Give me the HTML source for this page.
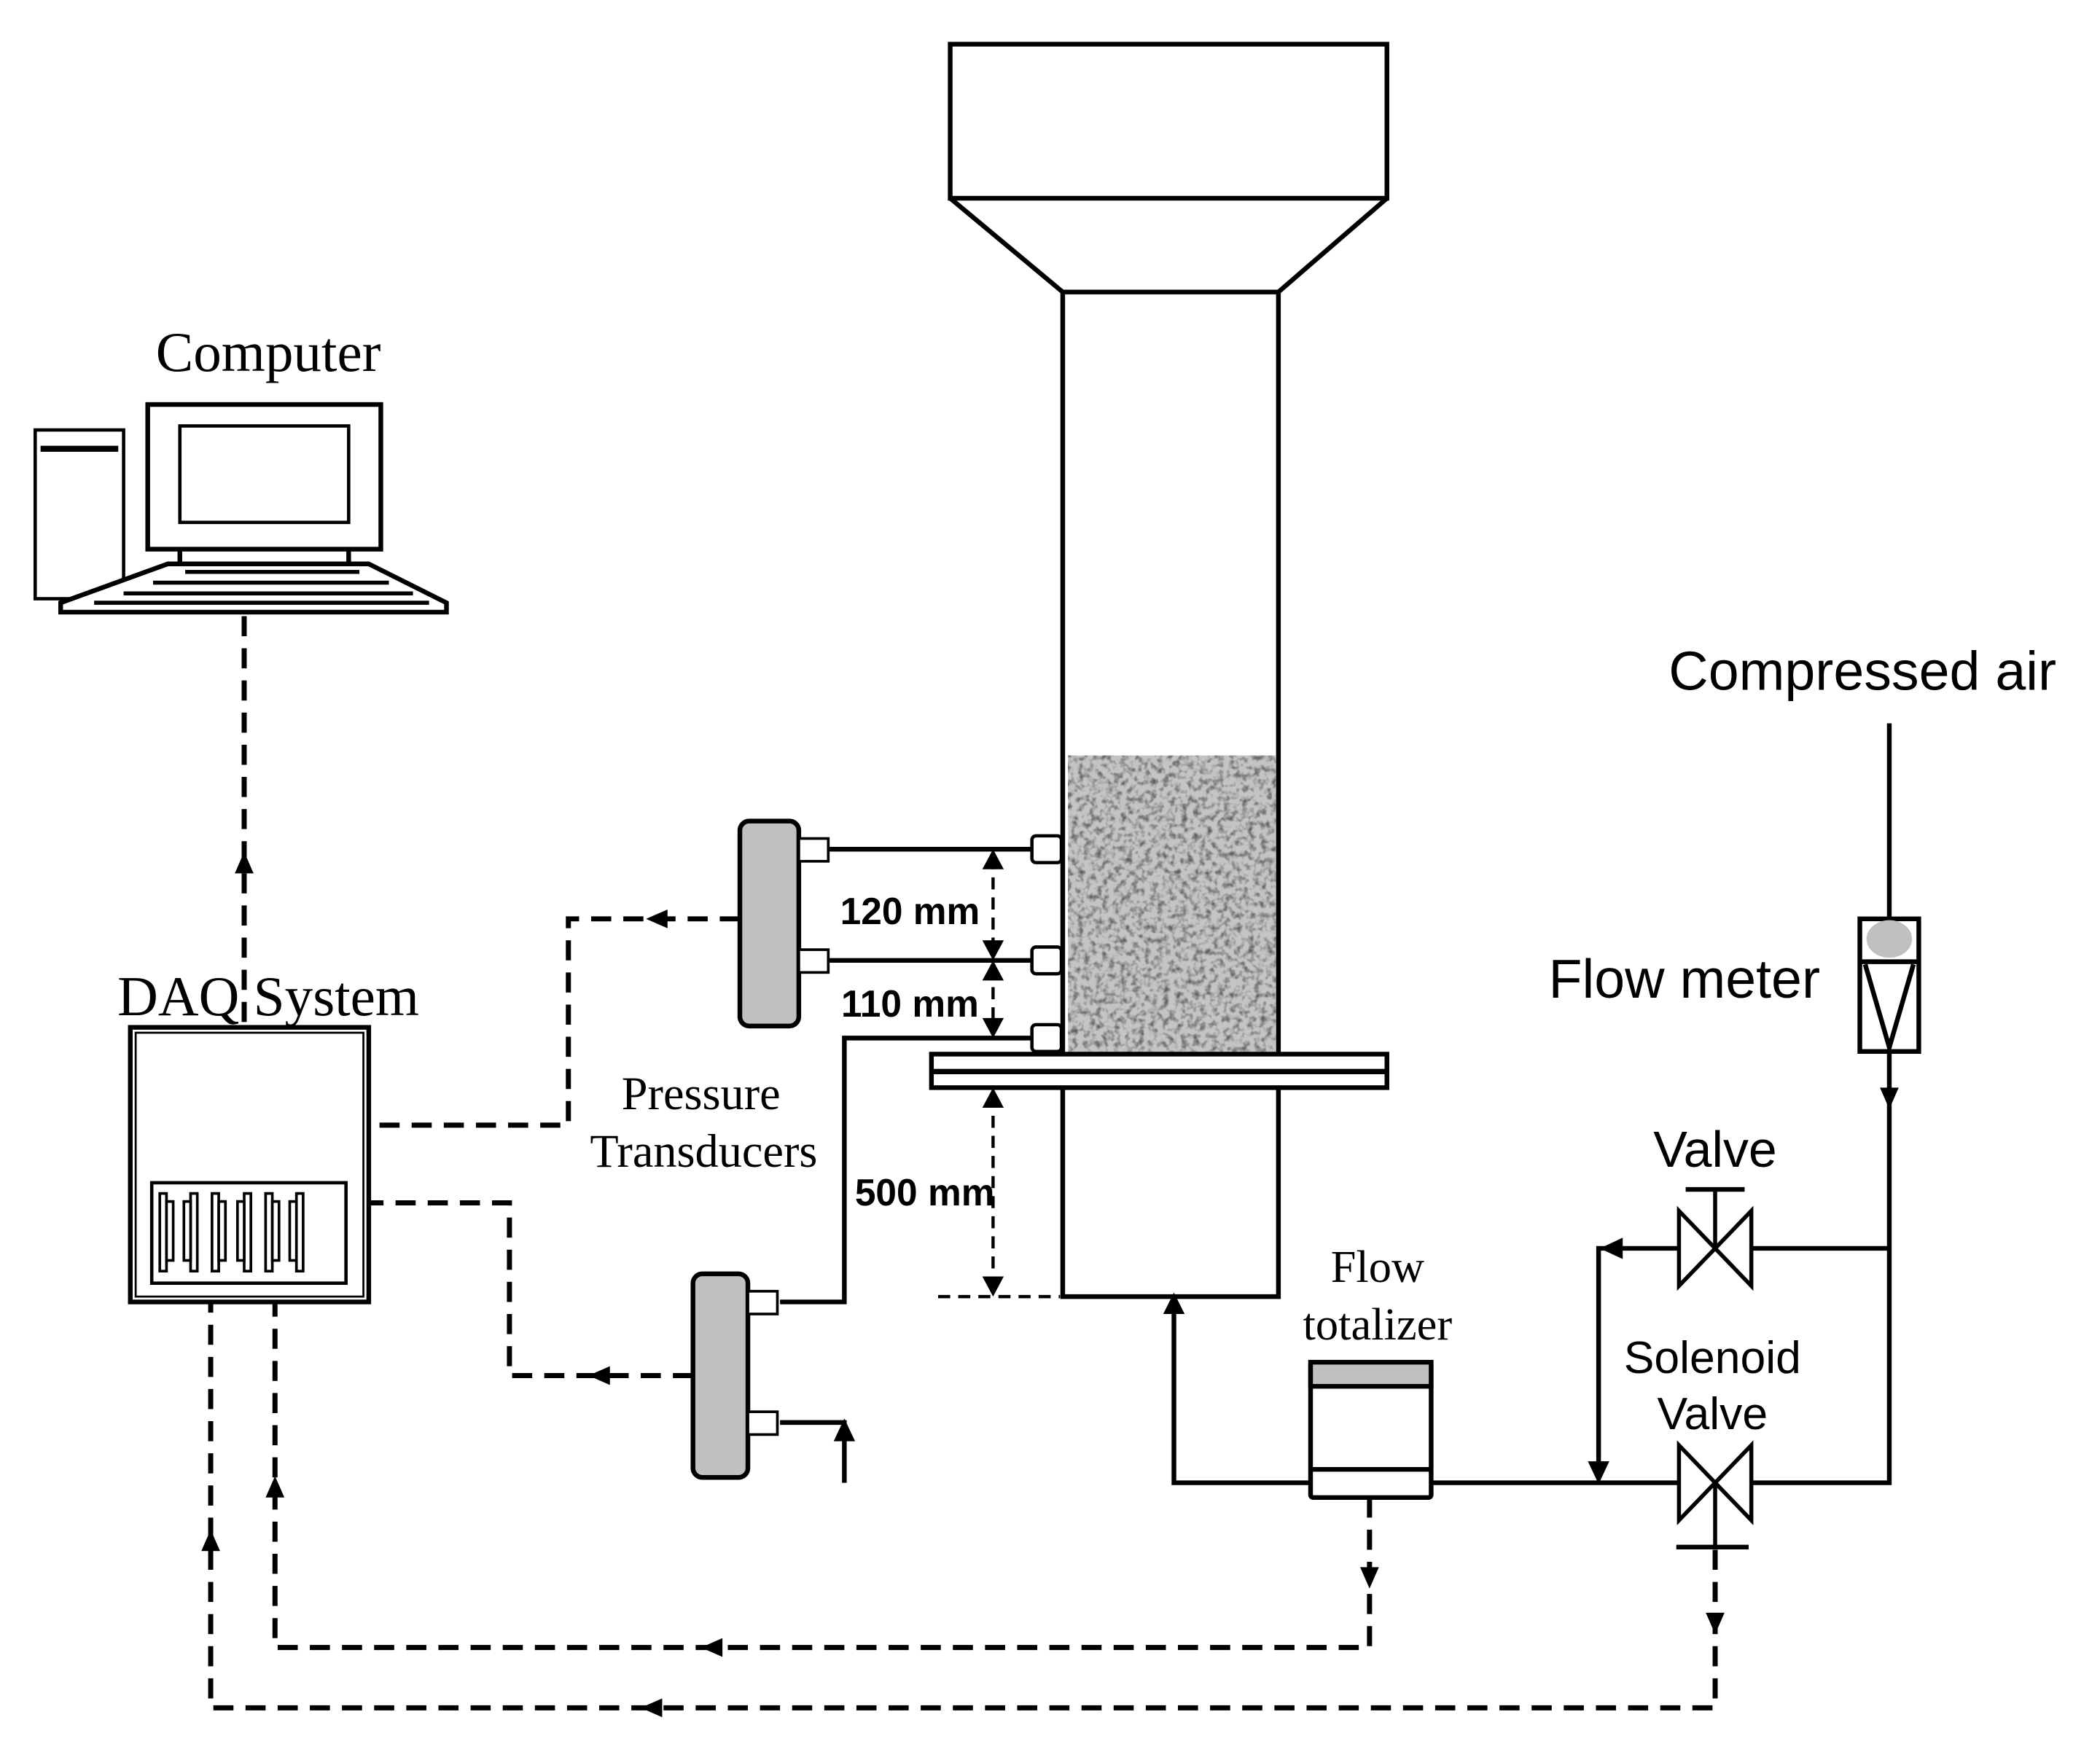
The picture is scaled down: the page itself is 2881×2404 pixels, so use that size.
<!DOCTYPE html>
<html><head><meta charset="utf-8"><style>
html,body{margin:0;padding:0;background:#fff;}
svg{display:block;}
.s{font-family:"Liberation Serif",serif;}
.a{font-family:"Liberation Sans",sans-serif;}
</style></head><body>
<svg width="2881" height="2404" viewBox="0 0 1567 1308" xmlns="http://www.w3.org/2000/svg">
<defs>
<filter id="noise" x="0" y="0" width="100%" height="100%">
<feTurbulence type="fractalNoise" baseFrequency="0.22" numOctaves="2" seed="4"/>
<feColorMatrix type="matrix" values="0 0 0 0 0  0 0 0 0 0  0 0 0 0 0  0 0 0 -2.6 1.45"/>
</filter>
</defs>
<rect width="1567" height="1308" fill="#fff"/>
<g fill="none" stroke="#000" stroke-width="3.5">
<rect x="709" y="33" width="326" height="115"/>
<path d="M709 148 L793 218 L954 218 L1035 148"/>
<line x1="793" y1="218" x2="793" y2="787"/>
<line x1="954" y1="218" x2="954" y2="787"/>
</g>
<rect x="797" y="564" width="155" height="222" fill="#c4c4c4"/>
<rect x="797" y="564" width="155" height="222" fill="#000" filter="url(#noise)" opacity="0.5"/>
<g fill="none" stroke="#000" stroke-width="3.5">
<rect x="695" y="787" width="340" height="25" fill="#fff"/>
<line x1="695" y1="800" x2="1035" y2="800" stroke-width="4"/>
<path d="M793 812 L793 968 L954 968 L954 812"/>
<rect x="770" y="624" width="22" height="20" rx="3" fill="#fff" stroke-width="2.5"/>
<rect x="770" y="707" width="22" height="20" rx="3" fill="#fff" stroke-width="2.5"/>
<rect x="770" y="765" width="22" height="20" rx="3" fill="#fff" stroke-width="2.5"/>
<rect x="552" y="613" width="44" height="153" rx="7" fill="#c0c0c0"/>
<rect x="596" y="626" width="22" height="17" fill="#fff" stroke-width="2"/>
<rect x="596" y="709" width="22" height="17" fill="#fff" stroke-width="2"/>
<line x1="618" y1="634" x2="770" y2="634"/>
<line x1="618" y1="717" x2="770" y2="717"/>
<rect x="517" y="951" width="41" height="152" rx="7" fill="#c0c0c0"/>
<rect x="558" y="964" width="22" height="17" fill="#fff" stroke-width="2"/>
<rect x="558" y="1054" width="22" height="17" fill="#fff" stroke-width="2"/>
<path d="M582 972 L630 972 L630 775 L770 775"/>
<path d="M582 1062 L630 1062 L630 1107"/>
<path d="M876 978 L876 1107 L978 1107"/>
<path d="M1068 1107 L1253 1107"/>
<path d="M1307 1107 L1410 1107 L1410 785"/>
<path d="M1410 686 L1410 540"/>
<path d="M1307 932 L1410 932"/>
<path d="M1253 932 L1193 932 L1193 1097"/>
<path d="M1253 904 L1307 960 L1307 904 L1253 960 Z" fill="#fff" stroke-width="3"/>
<line x1="1280" y1="932" x2="1280" y2="888" stroke-width="3"/>
<line x1="1258" y1="888" x2="1302" y2="888"/>
<path d="M1253 1079 L1307 1135 L1307 1079 L1253 1135 Z" fill="#fff" stroke-width="3"/>
<line x1="1280" y1="1107" x2="1280" y2="1155" stroke-width="3"/>
<line x1="1251" y1="1155" x2="1305" y2="1155"/>
<rect x="1388" y="686" width="44" height="99" fill="#fff"/>
<line x1="1388" y1="718" x2="1432" y2="718"/>
<path d="M1392 720 L1410 782 L1428 720"/>
<rect x="978" y="1017" width="90" height="101" rx="2" fill="#fff"/>
<rect x="978" y="1017" width="90" height="18" fill="#c0c0c0"/>
<line x1="978" y1="1097" x2="1068" y2="1097"/>
<rect x="97" y="767" width="178" height="205"/>
<rect x="101" y="771" width="170" height="197" stroke-width="1.5"/>
<rect x="113" y="883" width="145" height="75" stroke-width="2.5"/>
<rect x="26" y="321" width="66" height="126" stroke-width="2.5"/>
<line x1="30" y1="335" x2="88" y2="335" stroke-width="4.5"/>
<rect x="110" y="302" width="174" height="108" fill="#fff"/>
<rect x="134" y="318" width="126" height="72" stroke-width="2.5"/>
<line x1="134" y1="410" x2="134" y2="422"/>
<line x1="260" y1="410" x2="260" y2="422"/>
<path d="M125 421 L275 421 L333 450 L333 457 L45 457 L45 450 Z" fill="#fff"/>
</g>
<g stroke="#000" stroke-width="2" fill="#fff">
<rect x="119" y="891" width="5" height="58"/><rect x="124" y="897" width="5" height="44"/>
<rect x="142" y="891" width="5" height="58"/><rect x="137" y="897" width="5" height="44"/>
<rect x="158" y="891" width="5" height="58"/><rect x="163" y="897" width="5" height="44"/>
<rect x="182" y="891" width="5" height="58"/><rect x="177" y="897" width="5" height="44"/>
<rect x="198" y="891" width="5" height="58"/><rect x="203" y="897" width="5" height="44"/>
<rect x="221" y="891" width="5" height="58"/><rect x="216" y="897" width="5" height="44"/>
</g>
<g stroke="#000" stroke-width="3" fill="none">
<line x1="138" y1="427" x2="268" y2="427"/>
<line x1="114" y1="435" x2="290" y2="435"/>
<line x1="92" y1="443" x2="308" y2="443"/>
<line x1="70" y1="450" x2="320" y2="450"/>
</g>
<g fill="none" stroke="#000" stroke-width="3.8" stroke-dasharray="15 9">
<path d="M182 460 L182 767"/>
<path d="M552 686 L424 686 L424 840 L275 840"/>
<path d="M517 1027 L380 1027 L380 898 L275 898"/>
<path d="M1022 1118 L1022 1230 L205 1230 L205 972"/>
<path d="M1280 1157 L1280 1275 L157 1275 L157 972"/>
</g>
<g fill="none" stroke="#000" stroke-width="2.4" stroke-dasharray="9 6">
<line x1="741" y1="640" x2="741" y2="712"/>
<line x1="741" y1="722" x2="741" y2="770"/>
<line x1="741" y1="818" x2="741" y2="962"/>
<line x1="700" y1="968" x2="791" y2="968"/>
</g>
<g fill="#000">
<path d="M182 636 L175 652 L189 652 Z"/>
<path d="M482 686 L498 679 L498 693 Z"/>
<path d="M439 1027 L455 1020 L455 1034 Z"/>
<path d="M205 1102 L198 1118 L212 1118 Z"/>
<path d="M157 1142 L150 1158 L164 1158 Z"/>
<path d="M523 1230 L539 1223 L539 1237 Z"/>
<path d="M478 1275 L494 1268 L494 1282 Z"/>
<path d="M1022 1186 L1015 1170 L1029 1170 Z"/>
<path d="M1280 1220 L1273 1204 L1287 1204 Z"/>
<path d="M741 634 L733 649 L749 649 Z"/>
<path d="M741 717 L733 702 L749 702 Z"/>
<path d="M741 717 L733 732 L749 732 Z"/>
<path d="M741 775 L733 760 L749 760 Z"/>
<path d="M741 812 L733 827 L749 827 Z"/>
<path d="M741 968 L733 953 L749 953 Z"/>
<path d="M876 965 L868 981 L884 981 Z"/>
<path d="M630 1059 L622 1076 L638 1076 Z"/>
<path d="M1193 1108 L1185 1091 L1201 1091 Z"/>
<path d="M1194 932 L1211 924 L1211 940 Z"/>
<path d="M1410 828 L1403 812 L1417 812 Z"/>
</g>
<ellipse cx="1410" cy="701" rx="17" ry="14" fill="#c0c0c0"/>
<g fill="#000">
<text class="s" x="200" y="277" font-size="42" text-anchor="middle">Computer</text>
<text class="s" x="200" y="758" font-size="42" text-anchor="middle">DAQ System</text>
<text class="s" x="523" y="828" font-size="35" text-anchor="middle">Pressure</text>
<text class="s" x="525" y="871" font-size="35" text-anchor="middle">Transducers</text>
<text class="s" x="1028" y="957" font-size="34" text-anchor="middle">Flow</text>
<text class="s" x="1028" y="1000" font-size="34" text-anchor="middle">totalizer</text>
<text class="a" x="679" y="690" font-size="28" font-weight="bold" text-anchor="middle">120 mm</text>
<text class="a" x="679" y="759" font-size="28" font-weight="bold" text-anchor="middle">110 mm</text>
<text class="a" x="690" y="900" font-size="28" font-weight="bold" text-anchor="middle">500 mm</text>
<text class="a" x="1390" y="515" font-size="41" text-anchor="middle">Compressed air</text>
<text class="a" x="1257" y="745" font-size="41" text-anchor="middle">Flow meter</text>
<text class="a" x="1280" y="871" font-size="38" text-anchor="middle">Valve</text>
<text class="a" x="1278" y="1025" font-size="34" text-anchor="middle">Solenoid</text>
<text class="a" x="1278" y="1067" font-size="34" text-anchor="middle">Valve</text>
</g>
</svg>
</body></html>
